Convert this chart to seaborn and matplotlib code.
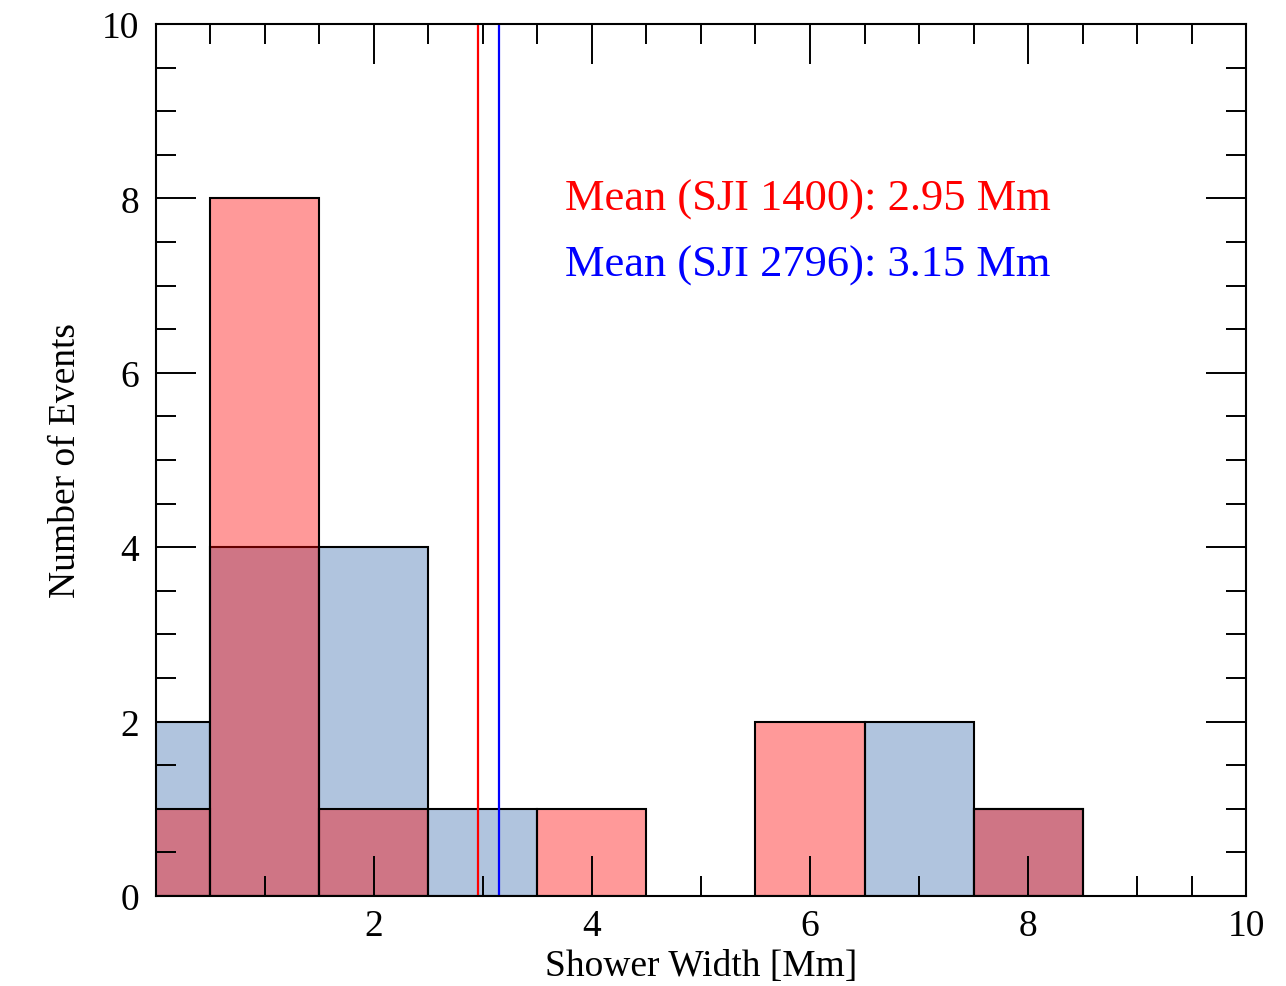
import numpy as np
import pandas as pd
import matplotlib
matplotlib.use("Agg")
import matplotlib.pyplot as plt
from matplotlib.ticker import MultipleLocator
import seaborn as sns

# histogram counts per 1 Mm bin (bins centred on integers)
bin_centers = [0, 1, 2, 3, 4, 5, 6, 7, 8]
counts_1400 = [1, 8, 1, 0, 1, 0, 2, 0, 1]
counts_2796 = [2, 4, 4, 1, 0, 0, 0, 2, 1]
mean_1400 = 2.95
mean_2796 = 3.15

blue_df = pd.DataFrame({"width": bin_centers, "count": counts_2796})
red_df = pd.DataFrame({"width": bin_centers, "count": counts_1400})

sns.set_style("ticks")
plt.rcParams["font.family"] = ["Liberation Serif", "DejaVu Serif"]
plt.rcParams["text.color"] = "black"
plt.rcParams["axes.labelcolor"] = "black"
plt.rcParams["xtick.color"] = "black"
plt.rcParams["ytick.color"] = "black"
plt.rcParams["axes.edgecolor"] = "black"

fig = plt.figure(figsize=(12.86, 9.87), dpi=100)
ax = fig.add_axes([0.1213, 0.0912, 0.9689 - 0.1213, 0.9747 - 0.0912])

sns.histplot(data=blue_df, x="width", weights="count", binwidth=1,
             binrange=(-0.5, 8.5), color="lightsteelblue", alpha=1.0,
             edgecolor="black", linewidth=1.5, ax=ax)
n_blue = len(ax.patches)
sns.histplot(data=red_df, x="width", weights="count", binwidth=1,
             binrange=(-0.5, 8.5), color="red", alpha=0.4,
             edgecolor="black", linewidth=1.5, ax=ax)
for i, p in enumerate(ax.patches):
    p.set_alpha(None)
    if i >= n_blue:
        p.set_facecolor((1.0, 0.0, 0.0, 0.4))
    else:
        p.set_facecolor("lightsteelblue")
    p.set_edgecolor("black")
    if p.get_height() == 0:
        p.set_visible(False)

ax.axvline(mean_1400, color="red", lw=1.6)
ax.axvline(mean_2796, color="blue", lw=1.6)

ax.text(3.75, 7.99, f"Mean (SJI 1400): {mean_1400:.2f} Mm", color="red",
        fontsize=32, va="center", ha="left")
ax.text(3.75, 7.24, f"Mean (SJI 2796): {mean_2796:.2f} Mm", color="blue",
        fontsize=32, va="center", ha="left")

ax.set_xlim(0, 10)
ax.set_ylim(0, 10)
ax.set_axisbelow(False)
ax.xaxis.set_major_locator(MultipleLocator(2))
ax.xaxis.set_minor_locator(MultipleLocator(0.5))
ax.yaxis.set_major_locator(MultipleLocator(2))
ax.yaxis.set_minor_locator(MultipleLocator(0.5))
ax.set_xticks([2, 4, 6, 8, 10])
ax.tick_params(which="both", direction="in", top=True, right=True, width=1.4,
               color="black", labelcolor="black")
ax.tick_params(which="major", length=29, labelsize=27)
ax.tick_params(which="minor", length=14.5)
ax.tick_params(axis="x", which="major", pad=9)
ax.tick_params(axis="y", which="major", pad=12)
for s in ax.spines.values():
    s.set_linewidth(1.5)
    s.set_visible(True)
    s.set_zorder(3)

ax.set_xlabel("Shower Width [Mm]", fontsize=27, labelpad=4)
ax.set_ylabel("Number of Events", fontsize=27, labelpad=14)

fig.savefig("out.png", dpi=100)
